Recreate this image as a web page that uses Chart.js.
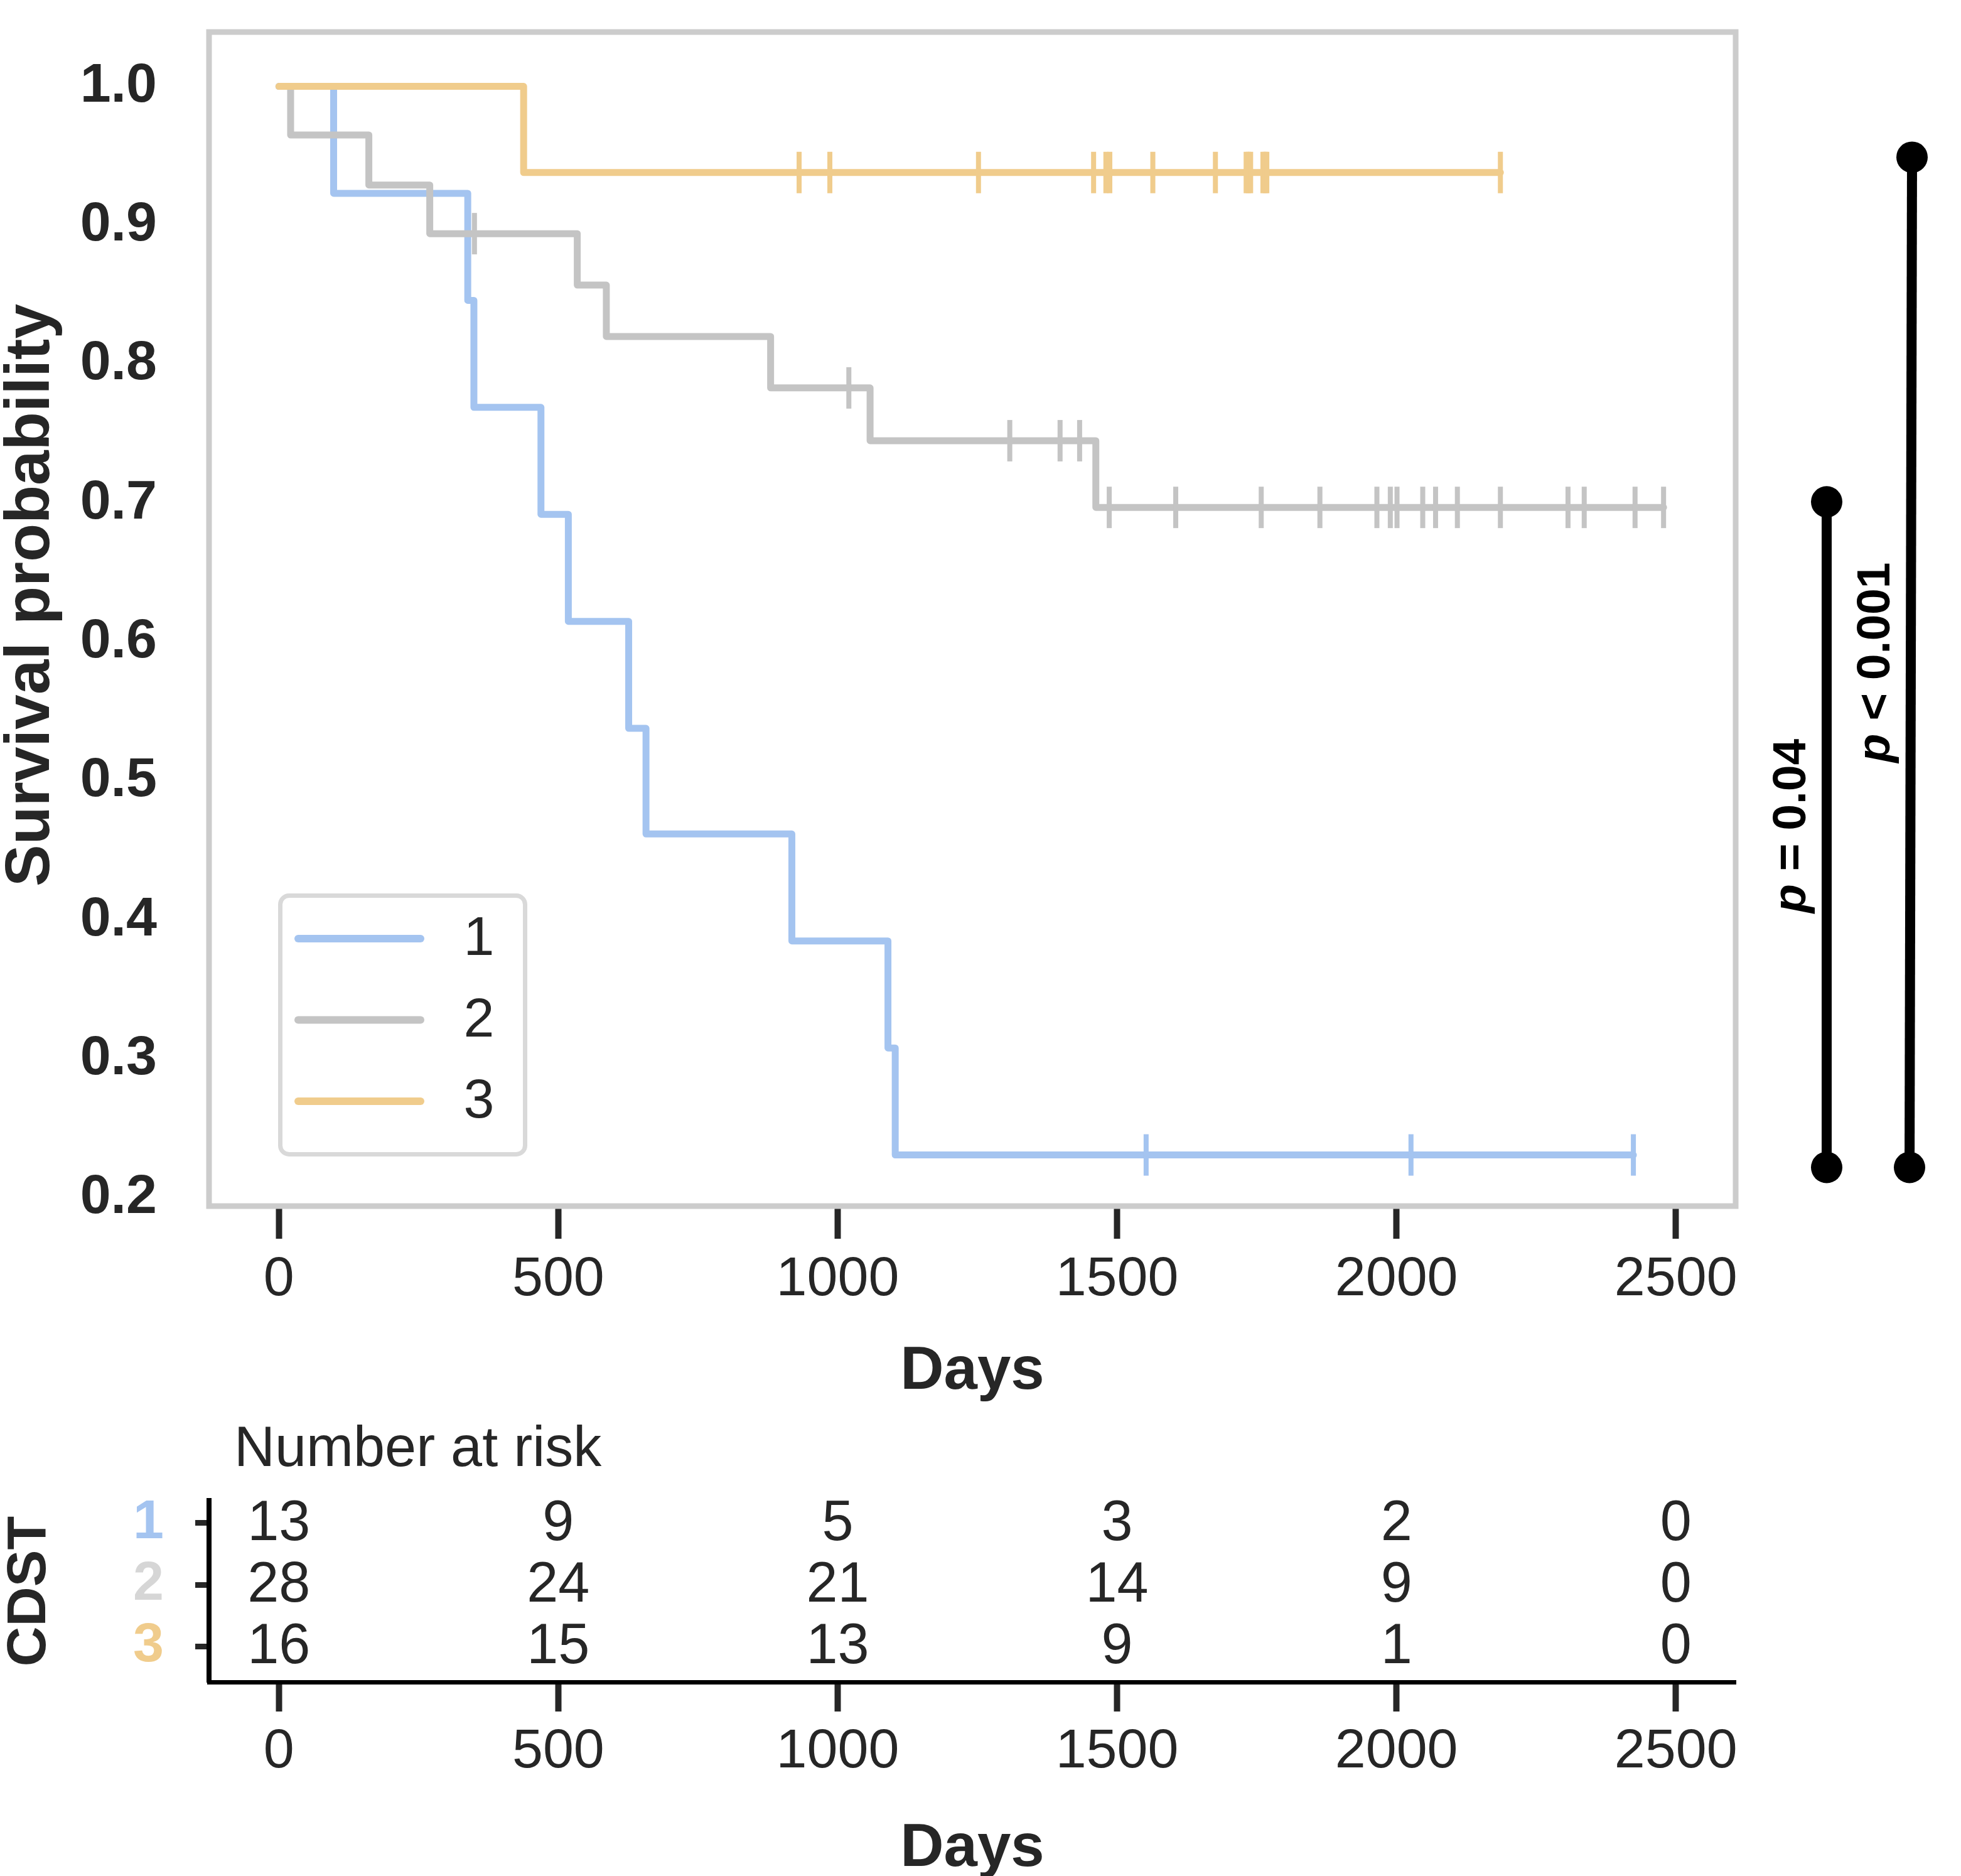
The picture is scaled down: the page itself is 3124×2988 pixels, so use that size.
<!DOCTYPE html>
<html>
<head>
<meta charset="utf-8">
<script src="https://cdn.jsdelivr.net/npm/chart.js@4.4.1/dist/chart.umd.min.js"></script>
<style>
  html, body { margin: 0; padding: 0; background: #fff; }
  #wrap { position: relative; width: 3124px; height: 2988px; }
  canvas { position: absolute; left: 0; }
</style>
</head>
<body>
<div id="wrap">
  <canvas id="km" width="3124" height="2234" style="top:0;width:3124px;height:2234px"></canvas>
  <canvas id="risk" width="3124" height="754" style="top:2234px;width:3124px;height:754px"></canvas>
</div>
<script>
const blue = 'rgb(164,196,240)';
const grey = 'rgb(196,196,196)';
const gold = 'rgb(240,204,140)';
const ink = '#262626';
const family = "'Liberation Sans', Arial, sans-serif";

// groups (CDST)
const groups = ['1', '2', '3'];

// Kaplan-Meier steps
const days1 = [0, 98, 338, 349, 469, 518, 626, 657, 918, 1090, 1103, 2424];
const surv1 = [1.0, 0.923, 0.846, 0.769, 0.692, 0.615, 0.538, 0.462, 0.385, 0.308, 0.231, 0.231];
const censor1 = [1552, 2026, 2424];

const days2 = [0, 21, 161, 270, 534, 586, 880, 1058, 1462, 2478];
const surv2 = [1.0, 0.965, 0.929, 0.894, 0.857, 0.820, 0.783, 0.745, 0.697, 0.697];
const censor2 = [350, 1020, 1308, 1398, 1433, 1486, 1605, 1758, 1863, 1965, 1989, 2001,
                 2047, 2070, 2109, 2186, 2307, 2336, 2427, 2478];

const days3 = [0, 438, 2186];
const surv3 = [1.0, 0.938, 0.938];
const censor3 = [931, 986, 1252, 1458, 1480, 1487, 1564, 1676, 1731, 1735, 1739,
                 1761, 1765, 1768, 2186];

// axes
const dayTicks = [0, 500, 1000, 1500, 2000, 2500];
const survTicks = [0.2, 0.3, 0.4, 0.5, 0.6, 0.7, 0.8, 0.9, 1.0];

// number at risk table
const riskDays = [0, 500, 1000, 1500, 2000, 2500];
const risk1 = [13, 9, 5, 3, 2, 0];
const risk2 = [28, 24, 21, 14, 9, 0];
const risk3 = [16, 15, 13, 9, 1, 0];

// log-rank brackets
const pLabels = ['p = 0.04', 'p < 0.001'];
const pTop = [0.701, 0.949];
const pBottom = [0.222, 0.222];

function stepAt(days, surv, t) {
    let v = surv[0];
    days.forEach((d, i) => { if (d <= t) v = surv[i]; });
    return v;
}

function curve(label, color, days, surv, order) {
    return {
        label: label,
        data: days.map((d, i) => ({x: d, y: surv[i]})),
        borderColor: color,
        backgroundColor: color,
        borderWidth: 11,
        stepped: true,
        pointRadius: 0,
        borderCapStyle: 'round',
        borderJoinStyle: 'round',
        order: order
    };
}

function censorMarks(color, days, surv, censor, order) {
    return {
        label: '',
        isCensor: true,
        data: censor.map(t => ({x: t, y: stepAt(days, surv, t)})),
        showLine: false,
        pointStyle: 'line',
        pointRotation: 90,
        pointRadius: 33,
        pointHoverRadius: 33,
        pointBorderWidth: 8,
        pointBorderColor: color,
        borderColor: color,
        pointHitRadius: 0,
        order: order
    };
}

// vertical axes add tick padding above/below themselves, drop that
function fixWidth(w) {
    return ax => { ax.width = w; ax.paddingTop = 0; ax.paddingBottom = 0; };
}

// x offsets from the plot's right edge (top end, bottom end), text nudge
const bracketX = [[145, 145], [281, 277]];
const bracketTextShift = [-14, 0];

const kmExtras = {
    id: 'kmExtras',
    afterDraw: (chart) => {
        const ctx = chart.ctx;
        const ca = chart.chartArea;
        const y = chart.scales.y;
        ctx.save();

        // frame round the plot
        ctx.strokeStyle = '#cccccc';
        ctx.lineWidth = 9;
        ctx.strokeRect(ca.left, ca.top, ca.right - ca.left, ca.bottom - ca.top);

        // y title, sits a little above the middle in the original
        ctx.save();
        ctx.translate(50, (ca.top + ca.bottom) / 2 - 38);
        ctx.rotate(-Math.PI / 2);
        ctx.fillStyle = ink;
        ctx.font = `bold 100px ${family}`;
        ctx.textAlign = 'center';
        ctx.textBaseline = 'middle';
        ctx.fillText('Survival probability', 0, 0);
        ctx.restore();

        // legend box
        const bx = ca.left + 110, by = ca.top + 1372;
        ctx.beginPath();
        ctx.roundRect(bx + 3.5, by + 3.5, 390, 412, 14);
        ctx.fillStyle = '#fff';
        ctx.fill();
        ctx.lineWidth = 7;
        ctx.strokeStyle = '#d9d9d9';
        ctx.stroke();
        chart.data.datasets.filter(d => !d.isCensor).forEach((d, i) => {
            const ly = by + 72 + i * 129.5;
            ctx.beginPath();
            ctx.lineCap = 'round';
            ctx.lineWidth = 12;
            ctx.strokeStyle = d.borderColor;
            ctx.moveTo(bx + 32, ly);
            ctx.lineTo(bx + 227, ly);
            ctx.stroke();
            ctx.fillStyle = ink;
            ctx.font = `88px ${family}`;
            ctx.textAlign = 'center';
            ctx.textBaseline = 'middle';
            ctx.fillText(d.label, bx + 320, ly + 2);
        });

        // p value brackets
        ctx.lineCap = 'butt';
        pLabels.forEach((txt, i) => {
            const y1 = y.getPixelForValue(pTop[i]);
            const y2 = y.getPixelForValue(pBottom[i]);
            const x1 = ca.right + bracketX[i][0];
            const x2 = ca.right + bracketX[i][1];
            ctx.beginPath();
            ctx.strokeStyle = '#000';
            ctx.lineWidth = 16;
            ctx.moveTo(x1, y1);
            ctx.lineTo(x2, y2);
            ctx.stroke();
            ctx.fillStyle = '#000';
            [[x1, y1], [x2, y2]].forEach(p => {
                ctx.beginPath();
                ctx.arc(p[0], p[1], 25, 0, Math.PI * 2);
                ctx.fill();
            });

            ctx.save();
            ctx.translate((x1 + x2) / 2 - 34, (y1 + y2) / 2 + bracketTextShift[i]);
            ctx.rotate(-Math.PI / 2);
            const head = txt.slice(0, 1), tail = txt.slice(1);
            ctx.textAlign = 'left';
            ctx.textBaseline = 'alphabetic';
            ctx.font = `italic bold 75px ${family}`;
            const w1 = ctx.measureText(head).width;
            ctx.font = `bold 75px ${family}`;
            const w2 = ctx.measureText(tail).width;
            const start = -(w1 + w2) / 2;
            ctx.font = `italic bold 75px ${family}`;
            ctx.fillText(head, start, 0);
            ctx.font = `bold 75px ${family}`;
            ctx.fillText(tail, start + w1, 0);
            ctx.restore();
        });
        ctx.restore();
    }
};

new Chart(document.getElementById('km'), {
    type: 'line',
    data: {
        datasets: [
            curve(groups[0], blue, days1, surv1, 6),
            censorMarks(blue, days1, surv1, censor1, 5),
            curve(groups[1], grey, days2, surv2, 4),
            censorMarks(grey, days2, surv2, censor2, 3),
            curve(groups[2], gold, days3, surv3, 2),
            censorMarks(gold, days3, surv3, censor3, 1)
        ]
    },
    options: {
        responsive: false,
        animation: false,
        devicePixelRatio: 1,
        events: [],
        layout: {padding: {left: 0, top: 51, right: 359, bottom: 0}},
        plugins: {legend: {display: false}, tooltip: {enabled: false}},
        scales: {
            x: {
                type: 'linear',
                min: -125,
                max: 2607,
                afterBuildTicks: ax => { ax.ticks = dayTicks.map(v => ({value: v})); },
                afterFit: ax => { ax.height = 313; },
                grid: {drawOnChartArea: false, drawTicks: true, tickLength: 52, tickWidth: 10, tickColor: ink},
                border: {display: false},
                ticks: {
                    padding: 13, color: ink, autoSkip: false, maxRotation: 0,
                    font: {family: family, size: 88},
                    callback: v => String(v)
                },
                title: {
                    display: true, text: 'Days', color: ink, padding: 0,
                    font: {family: family, size: 96, weight: 'bold', lineHeight: 1}
                }
            },
            y: {
                type: 'linear',
                min: 0.1942,
                max: 1.0391,
                afterBuildTicks: ax => { ax.ticks = survTicks.map(v => ({value: v})); },
                afterFit: fixWidth(333),
                grid: {display: false, drawTicks: false},
                border: {display: false},
                ticks: {
                    padding: 83, color: ink,
                    font: {family: family, size: 88, weight: 'bold'},
                    callback: v => v.toFixed(1)
                }
            }
        }
    },
    plugins: [kmExtras]
});

// number at risk
const rowColors = [blue, '#d6d6d6', gold];

const riskText = {
    id: 'riskText',
    afterDatasetsDraw: (chart) => {
        const ctx = chart.ctx;
        ctx.save();
        ctx.fillStyle = ink;
        ctx.font = `90px ${family}`;
        ctx.textAlign = 'center';
        ctx.textBaseline = 'middle';
        chart.data.datasets.forEach((ds, i) => {
            chart.getDatasetMeta(i).data.forEach((pt, j) => {
                ctx.fillText(String(ds.counts[j]), pt.x, pt.y + 2);
            });
        });
        ctx.textAlign = 'left';
        ctx.fillText('Number at risk', chart.chartArea.left + 40, 76);
        ctx.restore();
    }
};

function riskRow(row, counts) {
    return {
        label: groups[row - 1],
        counts: counts,
        data: riskDays.map(d => ({x: d, y: row})),
        showLine: false,
        pointRadius: 0,
        pointHoverRadius: 0
    };
}

new Chart(document.getElementById('risk'), {
    type: 'line',
    data: {datasets: [riskRow(1, risk1), riskRow(2, risk2), riskRow(3, risk3)]},
    options: {
        responsive: false,
        animation: false,
        devicePixelRatio: 1,
        events: [],
        layout: {padding: {left: 0, top: 156, right: 359, bottom: 4}},
        plugins: {legend: {display: false}, tooltip: {enabled: false}},
        scales: {
            x: {
                type: 'linear',
                min: -125,
                max: 2607,
                afterBuildTicks: ax => { ax.ticks = dayTicks.map(v => ({value: v})); },
                afterFit: ax => { ax.height = 305; },
                grid: {drawOnChartArea: false, drawTicks: true, tickLength: 47, tickWidth: 10, tickColor: ink},
                border: {display: true, color: '#000', width: 7},
                ticks: {
                    padding: 12, color: ink, autoSkip: false, maxRotation: 0,
                    font: {family: family, size: 88},
                    callback: v => String(v)
                },
                title: {
                    display: true, text: 'Days', color: ink, padding: 0,
                    font: {family: family, size: 96, weight: 'bold', lineHeight: 0.8}
                }
            },
            y: {
                type: 'linear',
                reverse: true,
                min: 0.633,
                max: 3.58,
                afterBuildTicks: ax => { ax.ticks = [1, 2, 3].map(v => ({value: v})); },
                afterFit: fixWidth(333),
                grid: {drawOnChartArea: false, drawTicks: true, tickLength: 22, tickWidth: 9, tickColor: ink},
                border: {display: true, color: '#000', width: 8},
                ticks: {
                    padding: 50,
                    color: c => rowColors[c.index],
                    font: {family: family, size: 88, weight: 'bold'},
                    callback: v => groups[v - 1]
                },
                title: {
                    display: true, text: 'CDST', color: ink, padding: {top: 4, bottom: 0},
                    font: {family: family, size: 88, weight: 'bold', lineHeight: 1}
                }
            }
        }
    },
    plugins: [riskText]
});
</script>
</body>
</html>
